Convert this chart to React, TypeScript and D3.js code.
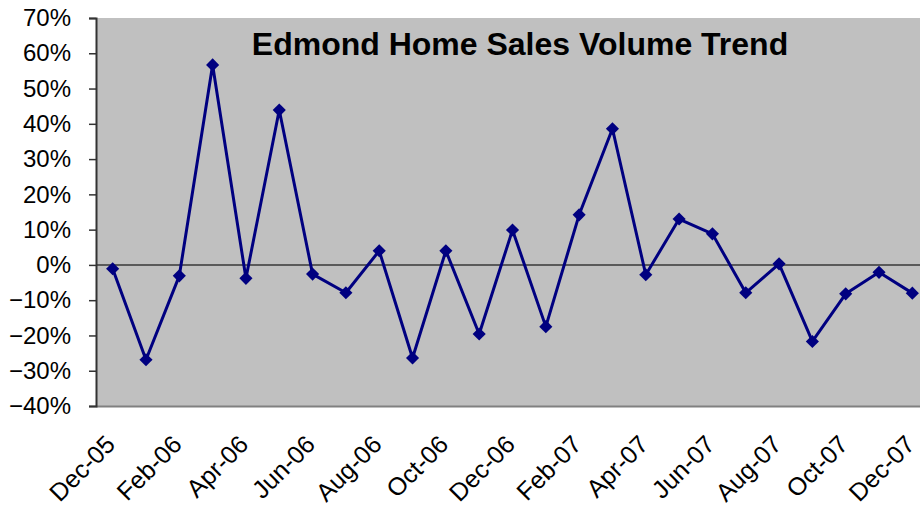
import React, { useRef, useEffect } from 'react';
import * as d3 from 'd3';

const months = [
  'Dec-05', 'Jan-06', 'Feb-06', 'Mar-06', 'Apr-06', 'May-06', 'Jun-06', 'Jul-06', 'Aug-06',
  'Sep-06', 'Oct-06', 'Nov-06', 'Dec-06', 'Jan-07', 'Feb-07', 'Mar-07', 'Apr-07', 'May-07',
  'Jun-07', 'Jul-07', 'Aug-07', 'Sep-07', 'Oct-07', 'Nov-07', 'Dec-07',
];
// month-over-month change in sales volume
const volumeChange = [
  -0.011, -0.269, -0.031, 0.567, -0.038, 0.439, -0.026, -0.079, 0.040,
  -0.264, 0.040, -0.196, 0.099, -0.175, 0.142, 0.386, -0.028, 0.130,
  0.088, -0.079, 0.003, -0.217, -0.082, -0.021, -0.080,
];
const yTicks = [-0.4, -0.3, -0.2, -0.1, 0, 0.1, 0.2, 0.3, 0.4, 0.5, 0.6, 0.7];
const title = 'Edmond Home Sales Volume Trend';

const W = 920;
const H = 512;
const FONT = '"Liberation Sans", Arial, sans-serif';

export default function App() {
  const svgRef = useRef<SVGSVGElement>(null);

  useEffect(() => {
    if (!svgRef.current) return;
    const svg = d3.select(svgRef.current);
    svg.selectAll('*').remove();

    const left = 96, top = 18, bottom = 406, right = 929;

    const x = d3.scaleBand<string>().domain(months).range([left, right]);
    const y = d3.scaleLinear().domain([-0.4, 0.7]).range([bottom, top]);
    const cx = (m: string) => (x(m) as number) + x.bandwidth() / 2;

    // plot area
    svg.append('rect')
      .attr('x', left).attr('y', top)
      .attr('width', right - left).attr('height', bottom - top)
      .attr('fill', '#c0c0c0');

    svg.append('line')
      .attr('x1', left).attr('x2', right)
      .attr('y1', bottom + 0.5).attr('y2', bottom + 0.5)
      .attr('stroke', '#808080').attr('stroke-width', 2);

    // zero line
    svg.append('line')
      .attr('x1', left).attr('x2', right)
      .attr('y1', y(0)).attr('y2', y(0))
      .attr('stroke', '#5a5a5a').attr('stroke-width', 2);

    // y axis
    const yAxis = d3.axisLeft(y)
      .tickValues(yTicks)
      .tickSize(7)
      .tickPadding(18)
      .tickFormat(d3.format('.0%') as any);
    const yg = svg.append('g')
      .attr('transform', `translate(${left},0)`)
      .call(yAxis);
    yg.select('.domain').attr('stroke', '#333').attr('stroke-width', 2);
    yg.selectAll('.tick line').attr('stroke', '#333').attr('stroke-width', 1.5);
    yg.selectAll('.tick text')
      .attr('font-family', FONT).attr('font-size', 24).attr('fill', '#000');

    // x labels, every other month
    svg.append('g')
      .selectAll('text')
      .data(months.filter((_, i) => i % 2 === 0))
      .enter()
      .append('text')
      .attr('transform', (d: string) => `translate(${cx(d) + 4},${bottom + 40}) rotate(-45)`)
      .attr('text-anchor', 'end')
      .attr('font-family', FONT)
      .attr('font-size', 25)
      .attr('fill', '#000')
      .text((d: string) => d);

    // series
    const line = d3.line<number>()
      .x((_, i) => cx(months[i]))
      .y(d => y(d));

    svg.append('path')
      .datum(volumeChange)
      .attr('d', line)
      .attr('fill', 'none')
      .attr('stroke', '#000080')
      .attr('stroke-width', 3)
      .attr('stroke-linejoin', 'round');

    svg.append('g')
      .selectAll('path')
      .data(volumeChange)
      .enter()
      .append('path')
      .attr('d', d3.symbol().type(d3.symbolDiamond2).size(110) as any)
      .attr('transform', (d: number, i: number) => `translate(${cx(months[i])},${y(d)})`)
      .attr('fill', '#000080');

    // title
    svg.append('text')
      .attr('x', 520)
      .attr('y', 55)
      .attr('text-anchor', 'middle')
      .attr('font-family', FONT)
      .attr('font-weight', 'bold')
      .attr('font-size', 32)
      .attr('fill', '#000')
      .text(title);
  }, []);

  return (
    <svg
      ref={svgRef}
      width={W}
      height={H}
      style={{ position: 'absolute', left: 0, top: 0, background: '#fff' }}
    />
  );
}
